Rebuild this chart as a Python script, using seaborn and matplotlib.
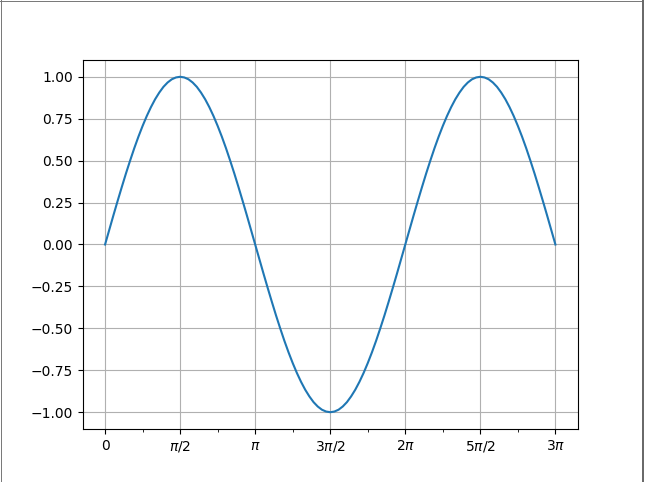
import numpy as np
import pandas as pd
import matplotlib
matplotlib.use("Agg")
import matplotlib.pyplot as plt
from matplotlib.lines import Line2D
import seaborn as sns

# Sample positions in units of pi/36 (5 degree steps), curve values
x_steps = list(range(0, 109))
y_values = [
    0.000, 0.087, 0.174, 0.259, 0.342, 0.423, 0.500, 0.574, 0.643, 0.707, 0.766, 0.819,
    0.866, 0.906, 0.940, 0.966, 0.985, 0.996, 1.000, 0.996, 0.985, 0.966, 0.940, 0.906,
    0.866, 0.819, 0.766, 0.707, 0.643, 0.574, 0.500, 0.423, 0.342, 0.259, 0.174, 0.087,
    0.000, -0.087, -0.174, -0.259, -0.342, -0.423, -0.500, -0.574, -0.643, -0.707, -0.766, -0.819,
    -0.866, -0.906, -0.940, -0.966, -0.985, -0.996, -1.000, -0.996, -0.985, -0.966, -0.940, -0.906,
    -0.866, -0.819, -0.766, -0.707, -0.643, -0.574, -0.500, -0.423, -0.342, -0.259, -0.174, -0.087,
    0.000, 0.087, 0.174, 0.259, 0.342, 0.423, 0.500, 0.574, 0.643, 0.707, 0.766, 0.819,
    0.866, 0.906, 0.940, 0.966, 0.985, 0.996, 1.000, 0.996, 0.985, 0.966, 0.940, 0.906,
    0.866, 0.819, 0.766, 0.707, 0.643, 0.574, 0.500, 0.423, 0.342, 0.259, 0.174, 0.087,
    0.000,
]
major_tick_halfpis = [0, 1, 2, 3, 4, 5, 6]
major_tick_labels = ["0", r"$\pi/2$", r"$\pi$", r"$3\pi/2$", r"$2\pi$", r"$5\pi/2$", r"$3\pi$"]
minor_tick_quarterpis = [1, 3, 5, 7, 9, 11]
y_ticks = [-1.00, -0.75, -0.50, -0.25, 0.00, 0.25, 0.50, 0.75, 1.00]

df = pd.DataFrame({"x": np.array(x_steps) * np.pi / 36, "y": y_values})

fig = plt.figure(figsize=(6.45, 4.82), dpi=100)
ax = fig.add_axes([0.128, 0.110, 0.768, 0.7655])
sns.lineplot(data=df, x="x", y="y", ax=ax, color="#1f77b4", linewidth=1.5)

ax.set_xticks(np.array(major_tick_halfpis) * np.pi / 2)
ax.set_xticklabels(major_tick_labels)
ax.set_xticks(np.array(minor_tick_quarterpis) * np.pi / 4, minor=True)
ax.set_yticks(y_ticks)
ax.set_yticklabels([f"{v:.2f}".replace("-", "\u2212") for v in y_ticks])
ax.set_xlabel("")
ax.set_ylabel("")
ax.grid(True, which="major", color="#b0b0b0", linewidth=0.8)
ax.set_axisbelow(True)

# window border
W, H = 645, 482
def fl(x0, y0, x1, y1, c="#7a7a7a", lw=1.0):
    fig.add_artist(Line2D([x0 / W, x1 / W], [1 - y0 / H, 1 - y1 / H],
                          transform=fig.transFigure, color=c, linewidth=lw * 0.72))
fl(0.5, 0, 0.5, H)
fl(0, 0.5, 643, 0.5)
fl(641.5, 0, 641.5, H, c="#6a6a6a")
fl(643.0, 0, 643.0, H, c="#6a6a6a")

fig.savefig("out.png", dpi=100)
